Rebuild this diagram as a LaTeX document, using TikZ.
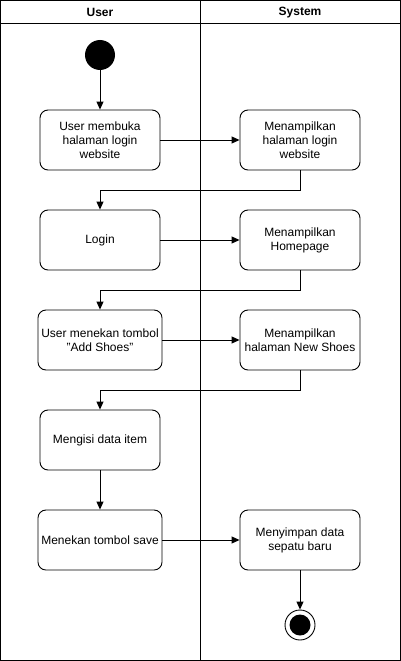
\documentclass[tikz,border=0pt]{standalone}
\usepackage{fontspec}
\setmainfont{Liberation Sans}
\usetikzlibrary{arrows.meta}

\tikzset{
  act/.style={draw, rounded corners=8pt, minimum width=120pt, minimum height=60pt,
              align=center, font=\fontsize{12}{14}\selectfont, line width=0.9pt},
  flow/.style={-{Triangle[length=8pt,width=7pt]}, line width=0.9pt},
  lane/.style={line width=0.9pt},
}

\begin{document}
\begin{tikzpicture}[x=1pt,y=-1pt]
      \useasboundingbox (0,0) rectangle (401,661);
      % swimlanes
      \draw[lane] (0.5,0.5) rectangle (400.5,660.5);
      \draw[lane] (0.5,23) -- (400.5,23);
      \draw[lane] (200.5,0.5) -- (200.5,660.5);
      \node[font=\fontsize{12}{14}\selectfont\bfseries] (userlane) at (100,12.5) {User};
      \node[font=\fontsize{12}{14}\selectfont\bfseries] (syslane) at (300,12.5) {System};
      % start / end
      \node[circle, fill=black, minimum size=30pt, inner sep=0pt] (start) at (100,55) {};
      \node[circle, draw, line width=0.9pt, minimum size=30pt, inner sep=0pt] (stop) at (300,625) {};
      \node[circle, fill=black, minimum size=21pt, inner sep=0pt] (stopdot) at (300,625) {};
      % user actions
      \node[act] (act1) at (100,140) {User membuka\\halaman login\\website};
      \node[act] (act2) at (100,240) {Login};
      \node[act] (act3) at (100,340) {User menekan tombol\\"Add Shoes"};
      \node[act] (act4) at (100,440) {Mengisi data item};
      \node[act] (act5) at (100,540) {Menekan tombol save};
      % system actions
      \node[act] (sys1) at (300,140) {Menampilkan\\halaman login\\website};
      \node[act] (sys2) at (300,240) {Menampilkan\\Homepage};
      \node[act] (sys3) at (300,340) {Menampilkan\\halaman New Shoes};
      \node[act] (sys5) at (300,540) {Menyimpan data\\sepatu baru};
      % flows
      \draw[flow] (start) -- (act1);
      \draw[flow] (act1) -- (sys1);
      \draw[flow] (sys1.south) -- ++(0,20) -| (act2.north);
      \draw[flow] (act2) -- (sys2);
      \draw[flow] (sys2.south) -- ++(0,20) -| (act3.north);
      \draw[flow] (act3) -- (sys3);
      \draw[flow] (sys3.south) -- ++(0,20) -| (act4.north);
      \draw[flow] (act4) -- (act5);
      \draw[flow] (act5) -- (sys5);
      \draw[flow] (sys5) -- (stop);
\end{tikzpicture}
\end{document}
